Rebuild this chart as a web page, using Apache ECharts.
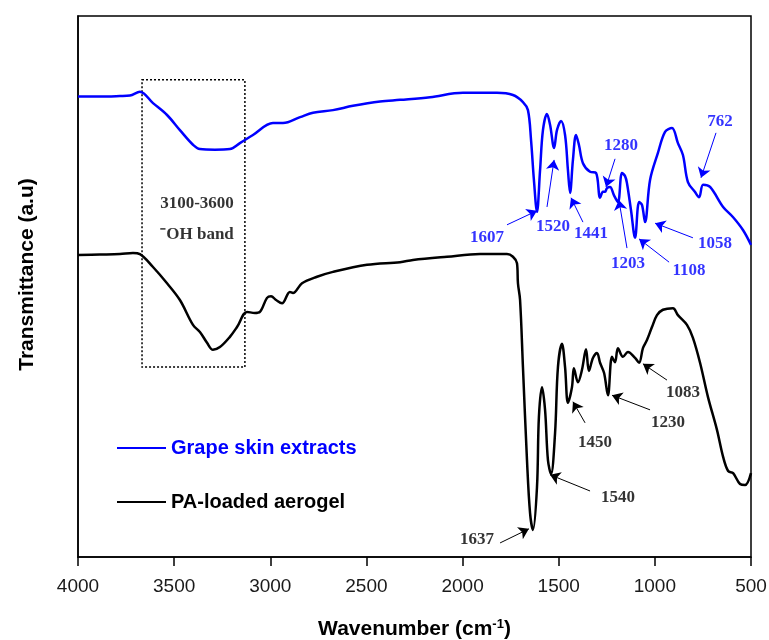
<!DOCTYPE html>
<html>
<head>
<meta charset="utf-8">
<script src="https://cdn.jsdelivr.net/npm/echarts@6/dist/echarts.min.js"></script>
<style>html,body{margin:0;padding:0;background:#fff}#c{width:769px;height:640px}</style>
</head>
<body>
<div id="c"></div>
<script>
// Grape skin extracts (wavenumber, transmittance a.u.)
const blueX = [4000,3886,3782,3730,3678,3610,3537,3470,3402,3366,3288,3210,3158,3090,2986,2934,2845,2778,2674,2570,2429,2325,2169,1998,1821,1738,1686,1660,1644,1629,1613,1597,1582,1561,1545,1524,1509,1488,1467,1452,1441,1426,1410,1395,1374,1337,1306,1285,1270,1259,1249,1233,1213,1192,1171,1155,1145,1124,1103,1082,1067,1051,1025,984,947,911,880,854,828,792,770,749,713,645,593,541,500];
const blueY = [85.1,85.1,85.2,85.3,86.0,83.9,81.7,78.9,76.2,75.4,75.3,75.4,76.5,78.0,80.2,80.2,81.3,82.1,82.6,83.4,84.2,84.5,85.0,85.8,85.8,85.4,84.1,82.6,77.1,69.7,63.8,71.5,78.9,81.9,79.9,75.6,78.9,80.6,78.0,71.5,67.3,73.4,78.0,76.2,72.8,71.2,71.0,66.4,67.5,67.5,68.2,68.4,66.9,65.6,71.0,70.4,69.1,64.1,59.0,65.6,65.1,61.9,69.7,74.7,78.6,79.3,76.5,74.3,69.3,67.5,66.5,68.8,68.4,64.7,62.8,60.4,57.7];
// PA-loaded aerogel
const blackX = [4000,3886,3782,3714,3678,3610,3537,3470,3402,3366,3329,3298,3262,3210,3173,3121,3080,3054,3017,2996,2970,2939,2898,2882,2835,2757,2674,2497,2325,2258,2081,1909,1769,1738,1717,1712,1701,1686,1665,1649,1634,1613,1603,1587,1571,1556,1540,1519,1504,1483,1467,1452,1431,1421,1400,1379,1358,1343,1322,1301,1285,1264,1244,1223,1207,1192,1166,1140,1103,1082,1062,1041,1015,989,958,906,880,833,802,765,724,677,645,619,593,557,531,500];
const blackY = [55.8,55.9,56.0,56.2,56.0,53.6,50.6,47.5,42.9,41.6,39.6,38.3,38.8,40.7,42.5,45.3,45.1,45.3,47.9,48.2,47.5,46.9,49.0,48.8,50.6,51.8,52.7,54.0,54.5,54.9,55.5,56.0,56.0,55.5,54.3,50.6,47.5,35.1,17.9,8.1,5.0,12.9,25.9,31.4,27.2,17.9,15.3,22.9,35.1,39.4,35.1,28.5,31.4,34.9,32.3,34.6,38.4,34.4,36.8,37.7,35.9,34.0,29.9,37.0,36.0,38.6,37.0,37.9,36.8,35.9,38.6,40.1,42.5,44.7,45.7,46.0,44.7,42.9,40.5,35.9,29.6,23.5,18.5,15.9,15.5,13.5,13.3,15.5];

const xTicks = [4000,3500,3000,2500,2000,1500,1000,500];

// Peak annotations: label, text position, arrow start, arrow end
const blueLabels = ['1607','1520','1441','1280','1203','1108','1058','762'];
const blueText = [[1873,59.0],[1530,61.0],[1332,59.7],[1176,76.0],[1140,54.2],[822,52.9],[687,58.0],[661,80.4]];
const blueFrom = [[1769,61.4],[1561,64.7],[1374,61.9],[1207,73.6],[1145,57.1],[926,54.5],[802,59.0],[682,78.4]];
const blueTo = [[1613,64.0],[1524,73.4],[1436,66.4],[1254,68.4],[1187,66.0],[1082,58.8],[999,61.7],[760,70.1]];

const blackLabels = ['1637','1540','1450','1230','1083'];
const blackText = [[1925,3.3],[1192,10.9],[1311,21.1],[932,24.8],[854,30.3]];
const blackFrom = [[1805,2.6],[1337,12.2],[1363,24.8],[1025,27.2],[937,32.7]];
const blackTo = [[1655,5.2],[1545,15.2],[1426,28.7],[1223,29.9],[1062,35.7]];

const ohBox = [[3667,88.2],[3132,35.1]];
const ohText = [['3100-3600',3381,65.4],['\u207BOH band',3381,59.5]];

const zip = (a,b)=>a.map((v,i)=>[v,b[i]]);
const BLUE = '#0000FF';
const serifFont = '"Liberation Serif","Times New Roman",serif';
const sansFont = '"Liberation Sans",Arial,sans-serif';

function labelSeries(labels, pos, color){
  return {
    type:'scatter', symbolSize:0, silent:true, z:5,
    data: labels.map((l,i)=>({name:l, value:pos[i]})),
    label:{show:true, position:'inside', formatter:p=>p.name, color:color,
      fontFamily:serifFont, fontWeight:'bold', fontSize:17}
  };
}
function arrowSeries(from, to, color){
  return {
    type:'lines', coordinateSystem:'cartesian2d', silent:true, z:4,
    symbol:['none','arrow'], symbolSize:10,
    lineStyle:{color:color, width:1, opacity:1},
    data: from.map((f,i)=>({coords:[f,to[i]]}))
  };
}

const chart = echarts.init(document.getElementById('c'), null, {renderer:'canvas'});
chart.setOption({
  animation:false,
  backgroundColor:'#fff',
  grid:{left:78, right:18, top:16, bottom:83, show:true, borderColor:'#000', borderWidth:1.5,
    containLabel:false, outerBoundsMode:'none'},
  legend:{
    orient:'vertical', left:117, top:438, padding:0, itemWidth:49, itemHeight:14, itemGap:34,
    icon:'path://M0,6L49,6L49,8L0,8Z',
    textStyle:{fontFamily:sansFont, fontWeight:'bold', fontSize:20},
    data:[{name:'Grape skin extracts', textStyle:{color:BLUE}},{name:'PA-loaded aerogel', textStyle:{color:'#000'}}]
  },
  xAxis:{
    type:'value', inverse:true, min:500, max:4000, interval:500,
    name:'{a|Wavenumber (cm}{s|-1}{a|)}', nameLocation:'middle', nameGap:61,
    nameTextStyle:{rich:{
      a:{fontFamily:sansFont, fontWeight:'bold', fontSize:21, color:'#000'},
      s:{fontFamily:sansFont, fontWeight:'bold', fontSize:13, color:'#000', verticalAlign:'top', padding:[0,0,10,0]}
    }},
    axisLine:{show:true, lineStyle:{color:'#000', width:1.5}},
    axisTick:{show:true, inside:false, length:9, lineStyle:{color:'#000', width:1.5}},
    axisLabel:{fontFamily:sansFont, fontSize:19, color:'#1a1a1a', margin:20,
      formatter: v => xTicks.includes(v) ? String(v) : ''},
    splitLine:{show:false}
  },
  yAxis:{
    type:'value', min:0, max:100,
    name:'Transmittance (a.u)', nameLocation:'middle', nameGap:40, nameRotate:90,
    nameTextStyle:{fontFamily:sansFont, fontWeight:'bold', fontSize:21, color:'#000', padding:[0,0,0,24]},
    axisLine:{show:true, lineStyle:{color:'#000', width:1.5}},
    axisTick:{show:false}, axisLabel:{show:false}, splitLine:{show:false}
  },
  series:[
    {name:'Grape skin extracts', type:'line', data:zip(blueX,blueY), showSymbol:false, symbol:'none', smooth:0.35,
      lineStyle:{color:BLUE, width:2.5}, itemStyle:{color:BLUE}, z:3,
      markArea:{silent:true, itemStyle:{color:'rgba(0,0,0,0)', borderColor:'#000', borderWidth:1.5, borderType:[2,2]},
        data:[[{coord:ohBox[0]},{coord:ohBox[1]}]]}},
    {name:'PA-loaded aerogel', type:'line', data:zip(blackX,blackY), showSymbol:false, symbol:'none', smooth:0.35,
      lineStyle:{color:'#000', width:2.5}, itemStyle:{color:'#000'}, z:3},
    labelSeries(blueLabels, blueText, BLUE),
    arrowSeries(blueFrom, blueTo, BLUE),
    labelSeries(blackLabels, blackText, '#000'),
    arrowSeries(blackFrom, blackTo, '#000'),
    {type:'scatter', symbolSize:0, silent:true,
      data: ohText.map(t=>({name:t[0], value:[t[1],t[2]]})),
      label:{show:true, position:'inside', formatter:p=>p.name, color:'#000', fontFamily:serifFont, fontWeight:'bold', fontSize:17}}
  ]
});
</script>
</body>
</html>
